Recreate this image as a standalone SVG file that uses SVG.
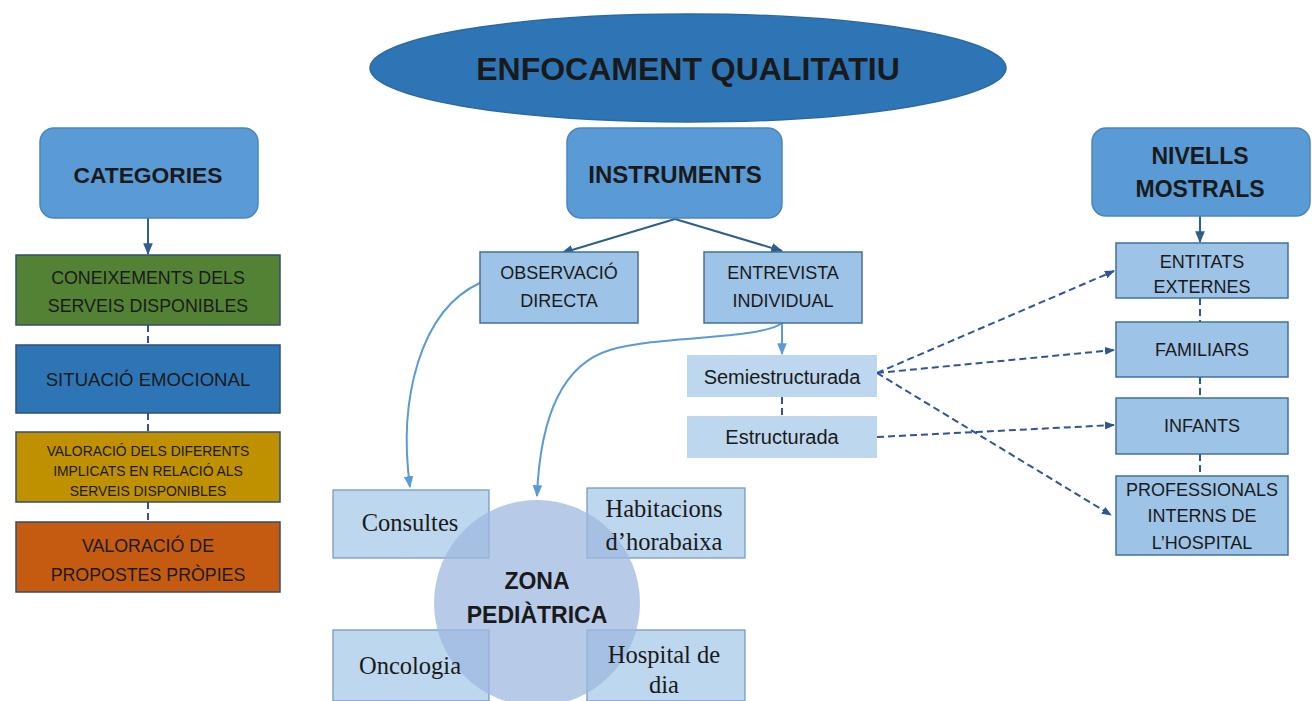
<svg xmlns="http://www.w3.org/2000/svg" width="1312" height="701" viewBox="0 0 1312 701">
<defs>
<marker id="ah" viewBox="0 0 10 10" refX="9" refY="5" markerWidth="6" markerHeight="6" orient="auto"><path d="M0,1 L10,5 L0,9 z" fill="#2f5d8c"/></marker>
<marker id="ahl" viewBox="0 0 10 10" refX="9" refY="5" markerWidth="6" markerHeight="6" orient="auto"><path d="M0,1 L10,5 L0,9 z" fill="#5b9bd5"/></marker>
<marker id="ahd" viewBox="0 0 10 10" refX="9" refY="5" markerWidth="5" markerHeight="5" orient="auto"><path d="M0,1 L10,5 L0,9 z" fill="#2f5597"/></marker>
<style>
.t{font-family:"Liberation Sans",Arial,sans-serif;fill:#1a1a1a;text-anchor:middle}
.b{font-weight:bold}
.s{font-family:"Liberation Serif","Times New Roman",serif;fill:#1a1a1a;text-anchor:middle;font-size:24.5px}
.top{fill:#5b9bd5;stroke:#4a86c0;stroke-width:1.5}
.mid{fill:#9dc3e6;stroke:#41719c;stroke-width:1.5}
.lt{fill:#bdd7ee}
.cat{stroke:#2f5070;stroke-width:1.5}
.zb{fill:#bdd7ee;stroke:#6f94bb;stroke-width:1.2}
.dash{stroke:#2f5597;stroke-width:2;stroke-dasharray:7,4;fill:none}
.solid{stroke:#2f5d8c;stroke-width:2;fill:none}
.lb{stroke:#5b9bd5;stroke-width:2;fill:none}
.m{font-size:18px}
</style>
</defs>
<rect width="1312" height="701" fill="#ffffff"/>

<g id="connectors">
<line class="solid" x1="148" y1="218" x2="148" y2="254" marker-end="url(#ah)"/>
<line class="dash" x1="148" y1="325" x2="148" y2="345"/>
<line class="dash" x1="148" y1="413" x2="148" y2="432"/>
<line class="dash" x1="148" y1="502" x2="148" y2="522"/>
<line class="solid" x1="675" y1="219" x2="562" y2="253" marker-end="url(#ah)"/>
<line class="solid" x1="675" y1="219" x2="782" y2="251" marker-end="url(#ah)"/>
<path class="lb" d="M480,283 C420,310 398,400 410,487" marker-end="url(#ahl)"/>
<path class="lb" d="M782,323 C760,340 660,335 610,350 C560,365 540,420 537,496" marker-end="url(#ahl)"/>
<line class="lb" x1="782" y1="323" x2="782" y2="354" stroke-width="1.5" marker-end="url(#ahl)"/>
<line class="dash" x1="782" y1="397" x2="782" y2="416" stroke="#5b9bd5"/>
<line class="dash" x1="877" y1="373" x2="1114" y2="271" marker-end="url(#ahd)"/>
<line class="dash" x1="877" y1="373" x2="1114" y2="350" marker-end="url(#ahd)"/>
<line class="dash" x1="877" y1="373" x2="1111" y2="515" marker-end="url(#ahd)"/>
<line class="dash" x1="877" y1="437" x2="1114" y2="425" marker-end="url(#ahd)"/>
<line class="solid" x1="1200" y1="216" x2="1200" y2="242" marker-end="url(#ah)"/>
<line class="dash" x1="1200" y1="298" x2="1200" y2="322"/>
<line class="dash" x1="1200" y1="377" x2="1200" y2="398"/>
<line class="dash" x1="1200" y1="454" x2="1200" y2="476"/>
</g>

<g id="enfocament">
<ellipse cx="688" cy="68" rx="318" ry="54" fill="#2e75b6" stroke="#2a69a3" stroke-width="1.5"/>
<text class="t b" x="688" y="80" font-size="32">ENFOCAMENT QUALITATIU</text>
</g>

<g id="categories">
<rect class="top" x="40" y="128" width="218" height="90" rx="14"/>
<text class="t b" x="148" y="183" font-size="22.8">CATEGORIES</text>
</g>
<g id="instruments">
<rect class="top" x="567" y="128" width="215" height="90" rx="14"/>
<text class="t b" x="675" y="183" font-size="24">INSTRUMENTS</text>
</g>
<g id="nivells">
<rect class="top" x="1092" y="128" width="218" height="88" rx="14"/>
<text class="t b" x="1200" y="164" font-size="23">NIVELLS</text>
<text class="t b" x="1200" y="197" font-size="23">MOSTRALS</text>
</g>

<g id="coneixements">
<rect class="cat" x="16" y="255" width="264" height="70" fill="#548235"/>
<text class="t" x="148" y="284" font-size="17.8">CONEIXEMENTS DELS</text>
<text class="t" x="148" y="312" font-size="17.8">SERVEIS DISPONIBLES</text>
</g>
<g id="situacio">
<rect class="cat" x="16" y="345" width="264" height="68" fill="#2e75b6"/>
<text class="t" x="148" y="386" font-size="18.6">SITUACIÓ EMOCIONAL</text>
</g>
<g id="valoracio">
<rect class="cat" x="16" y="432" width="264" height="70" fill="#bf9000"/>
<text class="t" x="148" y="456" font-size="13.9">VALORACIÓ DELS DIFERENTS</text>
<text class="t" x="148" y="476" font-size="13.9">IMPLICATS EN RELACIÓ ALS</text>
<text class="t" x="148" y="496" font-size="13.9">SERVEIS DISPONIBLES</text>
</g>
<g id="propostes">
<rect class="cat" x="16" y="522" width="264" height="70" fill="#c55a11"/>
<text class="t" x="148" y="552" font-size="17.8">VALORACIÓ DE</text>
<text class="t" x="148" y="581" font-size="17.8">PROPOSTES PRÒPIES</text>
</g>

<g id="observacio">
<rect class="mid" x="480" y="252" width="158" height="71"/>
<text class="t m" x="559" y="279">OBSERVACIÓ</text>
<text class="t m" x="559" y="307">DIRECTA</text>
</g>
<g id="entrevista">
<rect class="mid" x="704" y="252" width="158" height="71"/>
<text class="t m" x="783" y="279">ENTREVISTA</text>
<text class="t m" x="783" y="307">INDIVIDUAL</text>
</g>
<g id="semiestructurada">
<rect class="lt" x="687" y="355" width="190" height="42"/>
<text class="t" x="782" y="384" font-size="20">Semiestructurada</text>
</g>
<g id="estructurada">
<rect class="lt" x="687" y="416" width="190" height="42"/>
<text class="t" x="782" y="444" font-size="20">Estructurada</text>
</g>

<g id="entitats">
<rect class="mid" x="1116" y="243" width="172" height="55"/>
<text class="t m" x="1202" y="268">ENTITATS</text>
<text class="t m" x="1202" y="293">EXTERNES</text>
</g>
<g id="familiars">
<rect class="mid" x="1116" y="322" width="172" height="55"/>
<text class="t m" x="1202" y="356">FAMILIARS</text>
</g>
<g id="infants">
<rect class="mid" x="1116" y="398" width="172" height="56"/>
<text class="t m" x="1202" y="432">INFANTS</text>
</g>
<g id="professionals">
<rect class="mid" x="1116" y="476" width="172" height="79"/>
<text class="t m" x="1202" y="496">PROFESSIONALS</text>
<text class="t m" x="1202" y="522">INTERNS DE</text>
<text class="t m" x="1202" y="549">L’HOSPITAL</text>
</g>

<g id="consultes"><rect class="zb" x="333" y="490" width="156" height="68"/></g>
<g id="habitacions"><rect class="zb" x="587" y="488" width="158" height="70"/></g>
<g id="oncologia"><rect class="zb" x="333" y="630" width="156" height="71"/></g>
<g id="hospital"><rect class="zb" x="587" y="630" width="158" height="71"/></g>
<g id="zona">
<circle cx="537" cy="603" r="103" fill="#9fb8e0" fill-opacity="0.75"/>
<text class="t b" x="537" y="589" font-size="23">ZONA</text>
<text class="t b" x="537" y="623" font-size="23">PEDIÀTRICA</text>
</g>
<g id="zone-labels">
<text class="s" x="410" y="531">Consultes</text>
<text class="s" x="664" y="517">Habitacions</text>
<text class="s" x="664" y="550">d’horabaixa</text>
<text class="s" x="410" y="674">Oncologia</text>
<text class="s" x="664" y="663">Hospital de</text>
<text class="s" x="664" y="693">dia</text>
</g>
</svg>
